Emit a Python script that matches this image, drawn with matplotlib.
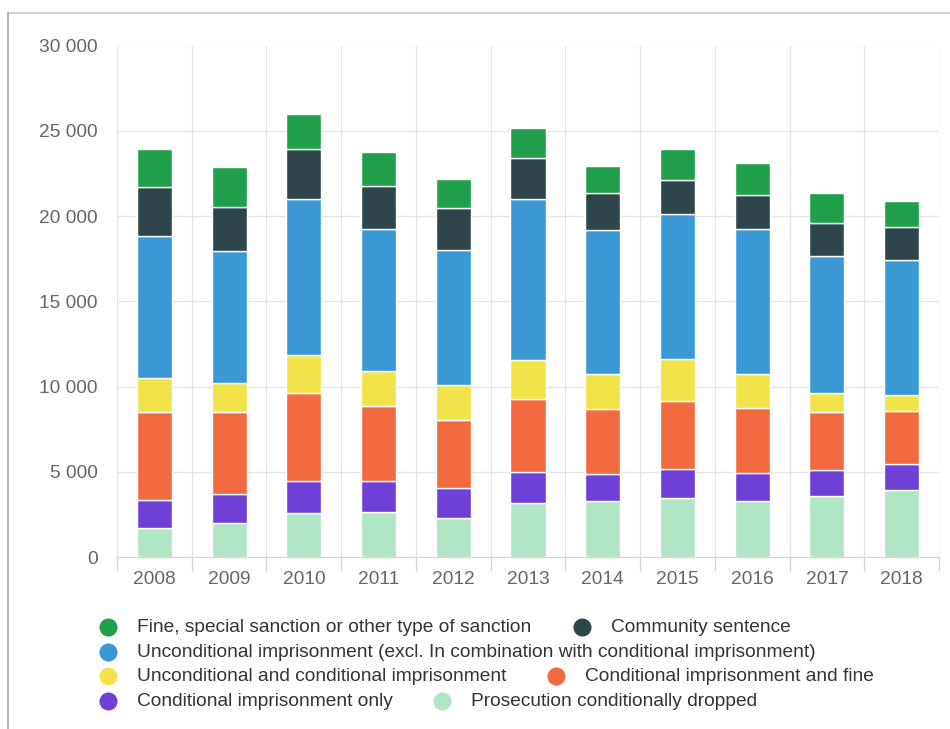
import matplotlib.pyplot as plt
from matplotlib.lines import Line2D
from matplotlib.ticker import FuncFormatter
import numpy as np

plt.rcParams['font.family'] = ['Liberation Sans', 'DejaVu Sans']

years = ["2008", "2009", "2010", "2011", "2012", "2013",
         "2014", "2015", "2016", "2017", "2018"]

# stacked from the bottom up
dropped = [1720, 2000, 2590, 2660, 2330, 3210, 3310, 3470, 3310, 3620, 3960]
cond_only = [1650, 1700, 1900, 1830, 1730, 1810, 1550, 1720, 1630, 1500, 1510]
cond_fine = [5120, 4790, 5120, 4370, 4000, 4250, 3820, 4000, 3840, 3390, 3120]
uncond_cond = [2020, 1720, 2270, 2080, 2060, 2300, 2080, 2460, 1980, 1110, 940]
uncond = [8330, 7730, 9120, 8310, 7920, 9430, 8420, 8470, 8510, 8060, 7880]
community = [2840, 2610, 2940, 2510, 2430, 2410, 2150, 2020, 1980, 1930, 1960]
fine = [2240, 2310, 2060, 1980, 1720, 1740, 1630, 1780, 1890, 1720, 1530]

series = [
    ("Prosecution conditionally dropped", dropped, "#b0e6c6"),
    ("Conditional imprisonment only", cond_only, "#6e40d6"),
    ("Conditional imprisonment and fine", cond_fine, "#f26a3f"),
    ("Unconditional and conditional imprisonment", uncond_cond, "#f2e34a"),
    ("Unconditional imprisonment (excl. In combination with conditional imprisonment)",
     uncond, "#3a99d4"),
    ("Community sentence", community, "#2d454b"),
    ("Fine, special sanction or other type of sanction", fine, "#21a04b"),
]

W, H = 950, 729
fig = plt.figure(figsize=(W / 100, H / 100), dpi=100)
ax = fig.add_axes([117 / W, 171.7 / H, 822 / W, 511.8 / H])

x = np.arange(len(years))
bottom = np.zeros(len(years))
for name, vals, col in series:
    ax.bar(x, vals, width=0.47, bottom=bottom, color=col,
           edgecolor="white", linewidth=1, zorder=3)
    bottom += np.array(vals)

ax.set_xlim(-0.5, len(years) - 0.5)
ax.set_ylim(0, 30000)
ax.set_yticks(np.arange(0, 30001, 5000))
ax.yaxis.set_major_formatter(FuncFormatter(lambda v, p: f"{v:,.0f}".replace(",", " ")))
ax.set_xticks(x)
ax.set_xticklabels(years)
ax.set_xticks(np.arange(-0.5, len(years), 1), minor=True)

ax.grid(axis="y", which="major", color="#e6e6e6", lw=1, zorder=0)
ax.grid(axis="x", which="minor", color="#e6e6e6", lw=1, zorder=0)
for s in ["left", "top", "right"]:
    ax.spines[s].set_visible(False)
ax.spines["bottom"].set_color("#ccd6eb")
ax.spines["bottom"].set_zorder(4)

ax.tick_params(axis="y", length=0, pad=14, labelsize=13.8, labelcolor="#666666")
ax.tick_params(axis="x", which="major", length=0, pad=10, labelsize=13.8,
               labelcolor="#666666")
ax.tick_params(axis="x", which="minor", length=10, width=1, color="#ccd6eb")

# legend laid out in rows, like the chart's own flow legend
legend_items = [
    (6, 107.7, 627.3), (5, 582.0, 627.3),
    (4, 107.7, 652.3),
    (3, 107.7, 676.3), (2, 556.0, 676.3),
    (1, 107.7, 701.3), (0, 441.7, 701.3),
]
for idx, mx, my in legend_items:
    name, _, col = series[idx]
    fig.add_artist(Line2D([mx / W], [1 - my / H], marker="o", markersize=13,
                          color=col, markeredgewidth=0, linestyle="none",
                          transform=fig.transFigure))
    fig.text((mx + 29) / W, 1 - my / H, name, fontsize=13.8, color="#333333",
             va="center", ha="left")

# outer frame
fig.add_artist(Line2D([8 / W, 1], [1 - 13 / H, 1 - 13 / H], color="#c8c8c8",
                      lw=1.2, transform=fig.transFigure))
fig.add_artist(Line2D([8 / W, 8 / W], [0, 1 - 13 / H], color="#b8b8b8",
                      lw=1.5, transform=fig.transFigure))

fig.savefig("out.png", dpi=100)
